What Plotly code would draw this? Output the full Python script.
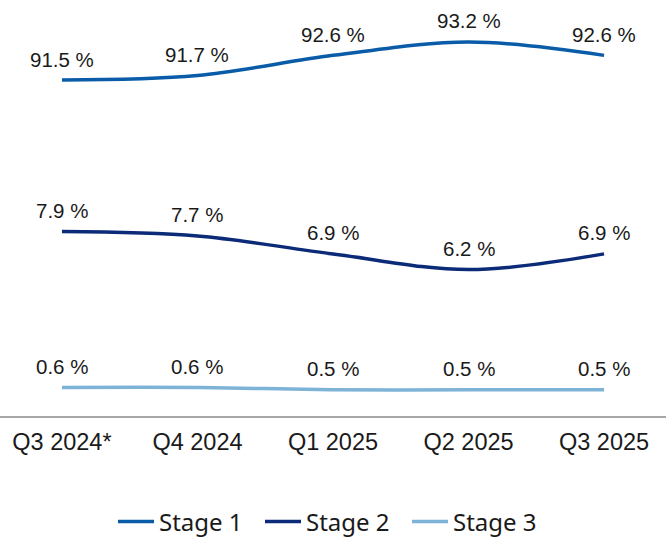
import plotly.graph_objects as go

categories = ["Q3 2024*", "Q4 2024", "Q1 2025", "Q2 2025", "Q3 2025"]
stage1 = [91.5, 91.7, 92.6, 93.2, 92.6]
stage2 = [7.9, 7.7, 6.9, 6.2, 6.9]
stage3 = [0.6, 0.6, 0.5, 0.5, 0.5]
series_names = ["Stage 1", "Stage 2", "Stage 3"]
colors = ["#0A5CA8", "#0B2A78", "#7DB3D6"]

W, H = 666, 537
PLOT_H = 416  # pixel height of plot area (top margin 0)
SCALE = 22.4  # px per percentage point, shared by all panels


def axis_range(domain, anchor_val, anchor_px):
    top_px = PLOT_H * (1 - domain[1])
    bot_px = PLOT_H * (1 - domain[0])
    lo = anchor_val - (bot_px - anchor_px) / SCALE
    hi = anchor_val + (anchor_px - top_px) / SCALE
    return [lo, hi]


panels = [
    (stage1, "y3", [0.72, 1.0], 80.0),
    (stage2, "y2", [0.32, 0.68], 231.5),
    (stage3, "y", [0.0, 0.25], 387.5),
]

fig = go.Figure()
annotations = []
layout_axes = {}
for i, (vals, yid, dom, apx) in enumerate(panels):
    fig.add_trace(go.Scatter(
        x=categories, y=vals, name=series_names[i], yaxis=yid,
        mode="lines", line=dict(color=colors[i], width=3.5, shape="spline", smoothing=1.0),
        hoverinfo="skip",
    ))
    axname = "yaxis" if yid == "y" else "yaxis" + yid[1:]
    layout_axes[axname] = dict(
        domain=dom, range=axis_range(dom, vals[0], apx), visible=False,
        fixedrange=True, showgrid=False, zeroline=False,
    )
    for c, v in zip(categories, vals):
        annotations.append(dict(
            x=c, y=v, xref="x", yref=yid, text=f"{v:.1f} %", showarrow=False,
            yshift=21,
            font=dict(family="Liberation Sans, Arial", size=20.5, color="#1a1a1a"),
        ))

fig.update_layout(
    width=W, height=H,
    margin=dict(l=0, r=0, t=0, b=H - PLOT_H),
    paper_bgcolor="white", plot_bgcolor="white",
    xaxis=dict(
        type="category", range=[-0.457, 4.457], showgrid=False, zeroline=False,
        showline=True, linecolor="#A6A6A6", linewidth=1.5, ticks="",
        ticklabelstandoff=4,
        tickfont=dict(family="Liberation Sans, Arial", size=23.5, color="#1a1a1a"),
        fixedrange=True,
    ),
    annotations=annotations,
    showlegend=True,
    legend=dict(
        orientation="h", xref="container", yref="container",
        x=113 / W, xanchor="left", y=1 - 522 / H, yanchor="middle",
        font=dict(family="Noto Sans", size=24, color="#1a1a1a"),
        itemwidth=36, entrywidth=96, tracegroupgap=0,
    ),
    **layout_axes,
)

fig.write_html("out.html", config={"displayModeBar": False},
               post_script="document.body.style.margin='0';")
